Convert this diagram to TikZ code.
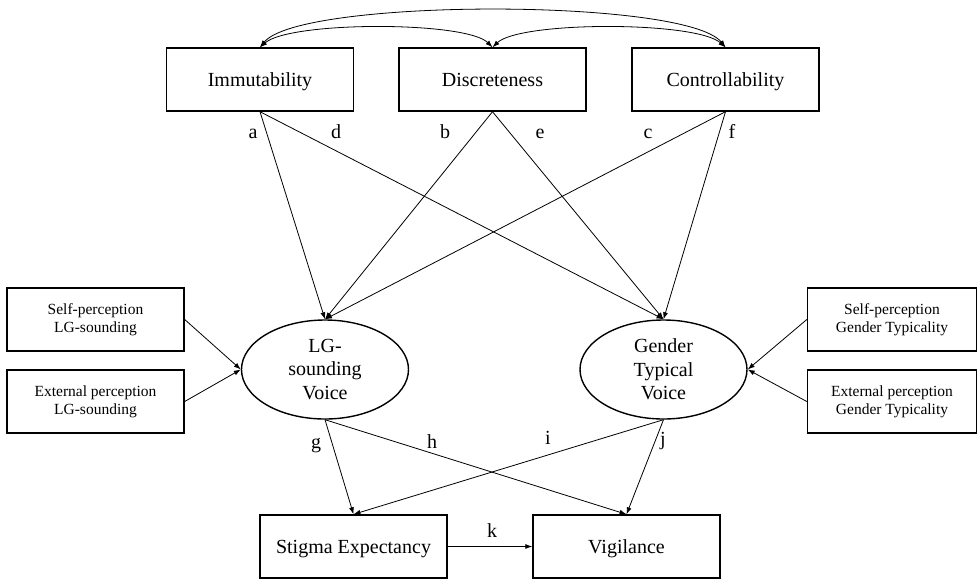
\documentclass[tikz,border=0pt]{standalone}
\usepackage{fontspec}
\setmainfont{Liberation Serif}
\usetikzlibrary{arrows.meta,shapes.geometric}
\begin{document}
\begin{tikzpicture}[x=1pt,y=-1pt,
  box/.style={draw,line width=1.4pt,rectangle,minimum width=187pt,minimum height=63pt,inner sep=0pt,align=center,text height=15pt,text depth=1pt,font=\fontsize{20}{24}\selectfont},
  sidebox/.style={draw,line width=1.4pt,rectangle,minimum height=63pt,inner sep=0pt,align=center,font=\fontsize{15.5}{18}\selectfont},
  latent/.style={draw,line width=1.4pt,ellipse,minimum width=167pt,minimum height=99pt,inner sep=0pt,align=center,font=\fontsize{20}{23.7}\selectfont},
  path/.style={line width=0.8pt,-{Latex[length=7pt,width=5pt]}},
  cov/.style={line width=0.8pt,{Latex[length=7pt,width=5pt]}-{Latex[length=7pt,width=5pt]}},
  lbl/.style={anchor=base,inner sep=0pt,font=\fontsize{20}{24}\selectfont}]
\useasboundingbox (0,0) rectangle (977,579);
% exogenous
\node[box] (imm) at (260,79.5) {Immutability};
\node[box] (dis) at (492.5,79.5) {Discreteness};
\node[box] (con) at (725.5,79.5) {Controllability};
% latent
\node[latent] (lg) at (325,369.5) {LG-\\sounding\\Voice};
\node[latent] (gt) at (663.5,369.5) {Gender\\Typical\\Voice};
% indicators
\node[sidebox,minimum width=177pt] (slg) at (95.5,319.5) {Self-perception\\LG-sounding};
\node[sidebox,minimum width=177pt] (elg) at (95.5,401.5) {External perception\\LG-sounding};
\node[sidebox,minimum width=169pt] (sgt) at (892,319.5) {Self-perception\\Gender Typicality};
\node[sidebox,minimum width=169pt] (egt) at (892,401.5) {External perception\\Gender Typicality};
% outcomes
\node[box] (se) at (353.5,546.5) {Stigma Expectancy};
\node[box] (vig) at (626.5,546.5) {Vigilance};
% covariances
\draw[cov] (imm.north) .. controls (300,-2) and (686,-2) .. (con.north);
\draw[cov] (imm.north) .. controls (290,21) and (466,21) .. (dis.north);
\draw[cov] (dis.north) .. controls (520,21) and (696,21) .. (con.north);
% paths
\draw[path] (imm.south) -- (lg.north);
\draw[path] (imm.south) -- (gt.north);
\draw[path] (dis.south) -- (lg.north);
\draw[path] (dis.south) -- (gt.north);
\draw[path] (con.south) -- (lg.north);
\draw[path] (con.south) -- (gt.north);
\draw[path] (slg.east) -- (lg.west);
\draw[path] (elg.east) -- (lg.west);
\draw[path] (sgt.west) -- (gt.east);
\draw[path] (egt.west) -- (gt.east);
\draw[path] (lg.south) -- (se.north);
\draw[path] (lg.south) -- (vig.north);
\draw[path] (gt.south) -- (se.north);
\draw[path] (gt.south) -- (vig.north);
\draw[path] (se.east) -- (vig.west);
% labels
\node[lbl] (la) at (253,138) {a};
\node[lbl] (ld) at (336,138) {d};
\node[lbl] (lb) at (445,138) {b};
\node[lbl] (le) at (540,138) {e};
\node[lbl] (lc) at (648,138) {c};
\node[lbl] (lf) at (732,138) {f};
\node[lbl] (lgg) at (316,448) {g};
\node[lbl] (lh) at (432,448) {h};
\node[lbl] (li) at (548,444) {i};
\node[lbl] (lj) at (663,445) {j};
\node[lbl] (lk) at (492,537) {k};
\end{tikzpicture}
\end{document}
